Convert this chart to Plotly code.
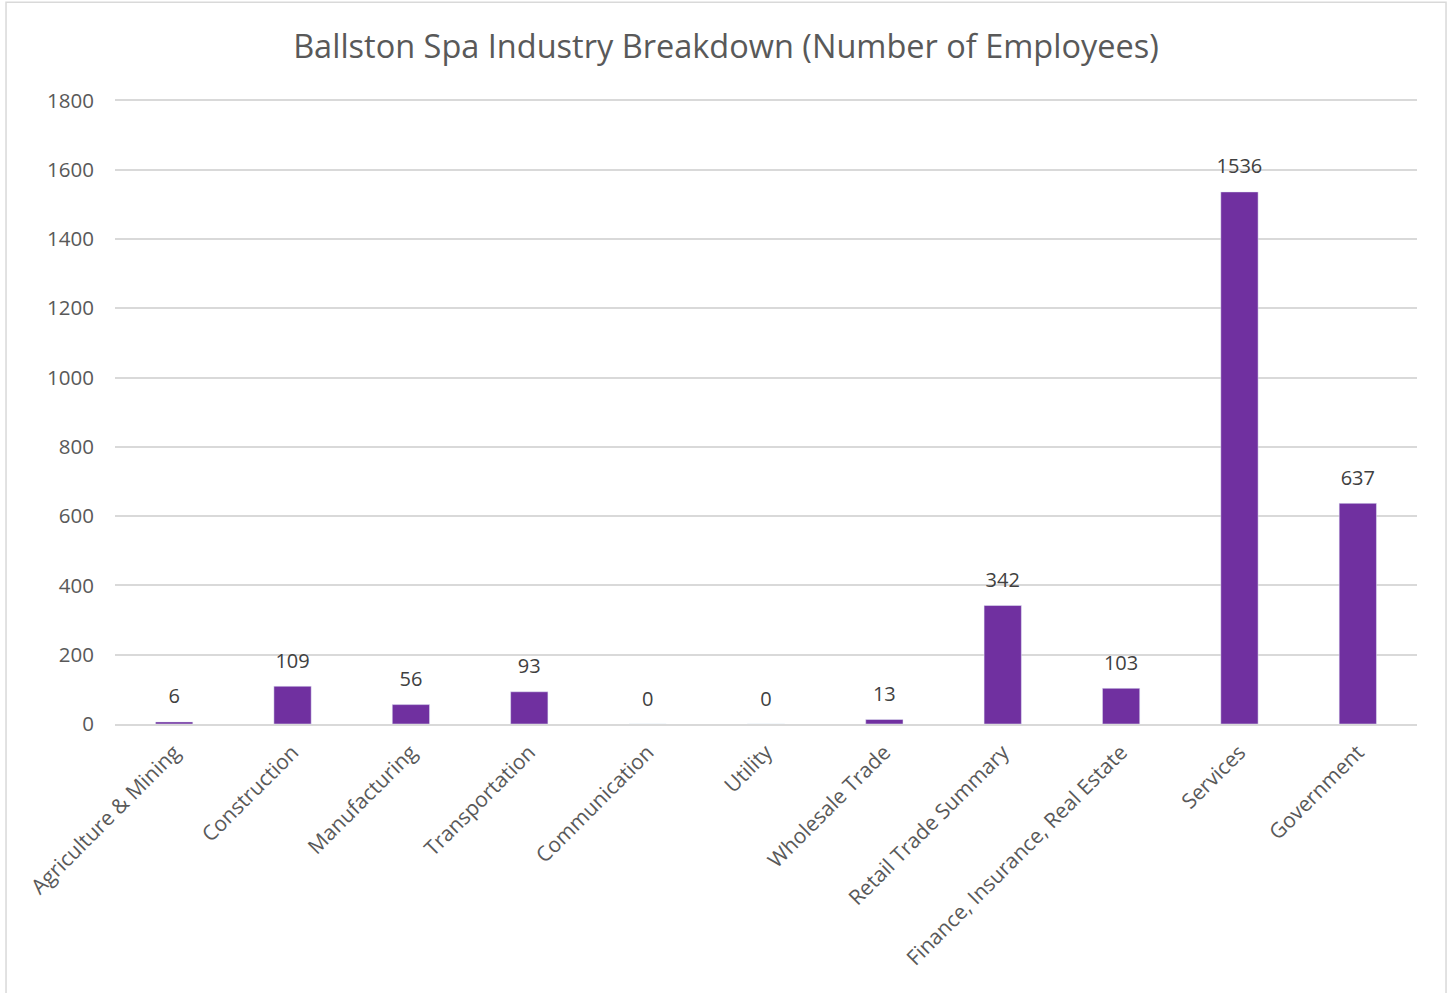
import plotly.graph_objects as go

categories = [
    "Agriculture & Mining", "Construction", "Manufacturing", "Transportation",
    "Communication", "Utility", "Wholesale Trade", "Retail Trade Summary",
    "Finance, Insurance, Real Estate", "Services", "Government",
]
employees = [6, 109, 56, 93, 0, 0, 13, 342, 103, 1536, 637]
y_ticks = [0, 200, 400, 600, 800, 1000, 1200, 1400, 1600, 1800]

font_family = "Open Sans, Lato, sans-serif"
bar_color = "#7030A0"
grid_color = "#d9d9d9"

fig = go.Figure()
fig.add_trace(go.Bar(
    x=categories,
    y=employees,
    marker=dict(color=bar_color),
    hoverinfo="x+y",
))
# data labels above bars (invisible marker pushes the text up a bit)
fig.add_trace(go.Scatter(
    x=categories,
    y=employees,
    mode="markers+text",
    marker=dict(size=20, opacity=0),
    text=[str(v) for v in employees],
    textposition="top center",
    textfont=dict(size=20, color="#404040", family=font_family),
    hoverinfo="skip",
    cliponaxis=False,
))

# chart border
fig.add_shape(type="rect", xref="paper", yref="paper",
              x0=-0.0837, x1=1.0223, y0=-0.6, y1=1.151,
              line=dict(color=grid_color, width=1.5), layer="below")

fig.update_layout(
    title=dict(text="Ballston Spa Industry Breakdown (Number of Employees)",
               font=dict(size=32.5, color="#595959", family=font_family),
               x=0.5, xanchor="center", y=0.953, yanchor="middle"),
    width=1452,
    height=993,
    margin=dict(l=115, r=35, t=97, b=269),
    plot_bgcolor="white",
    paper_bgcolor="white",
    showlegend=False,
    bargap=0.685,
)
fig.update_xaxes(
    range=[-0.5, len(categories) - 0.5],
    tickangle=-45,
    tickfont=dict(size=21, color="#595959", family=font_family),
    showline=True, linecolor=grid_color, linewidth=1.5,
    showgrid=False, ticks="", ticklabelstandoff=6,
)
fig.update_yaxes(
    range=[0, 1810],
    tickvals=y_ticks,
    tickfont=dict(size=20.5, color="#595959", family=font_family),
    showgrid=True, gridcolor=grid_color, gridwidth=1.5,
    zeroline=False, ticks="", ticklabelstandoff=20,
)

fig.write_html("out.html", config={"displayModeBar": False},
               post_script="document.body.style.margin='0';")
